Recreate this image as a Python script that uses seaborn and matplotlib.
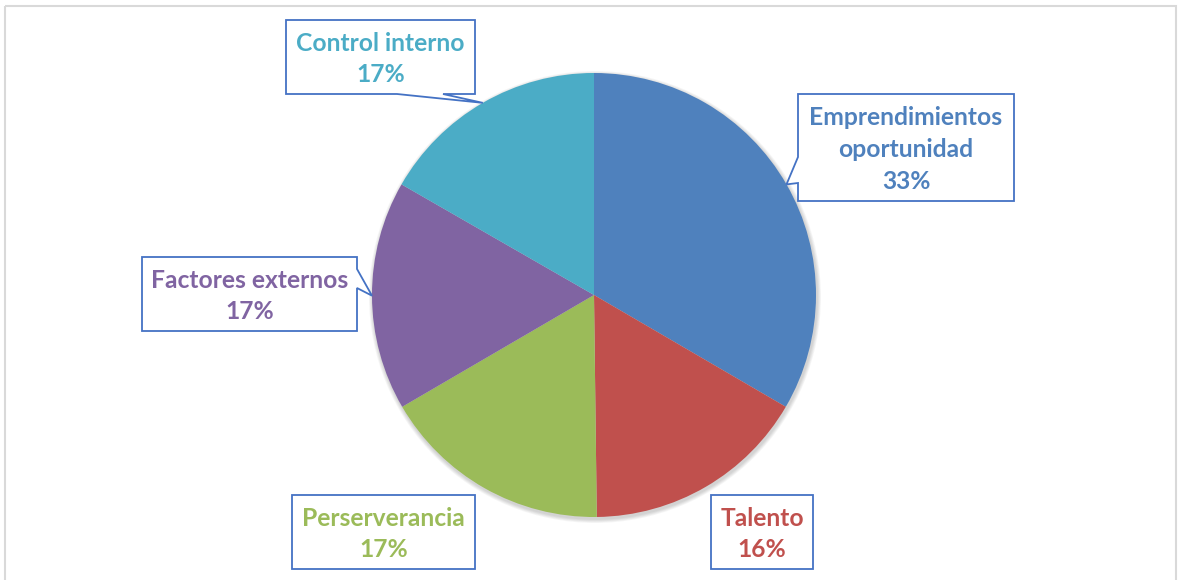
import matplotlib
matplotlib.use("Agg")
import numpy as np
import matplotlib.pyplot as plt
from matplotlib.patches import Polygon, Rectangle, Circle
import seaborn as sns

# chart data
categories = ['Emprendimientos\noportunidad', 'Talento', 'Perserverancia',
              'Factores externos', 'Control interno']
percentages = [33.4, 16.4, 16.8, 16.7, 16.7]
slice_colors = ['#4F81BD', '#C0504D', '#9BBB59', '#8064A2', '#4BACC6']

sns.set_theme(style='white')
plt.rcParams['font.family'] = ['Lato', 'DejaVu Sans']

W, H = 1178, 580
fig = plt.figure(figsize=(W / 100, H / 100), dpi=100)
ax = fig.add_axes([0, 0, 1, 1])

# pie layout in pixel coordinates (y axis inverted below)
center = (594, 295)
radius = 222

# soft shadow round the pie
for k in range(1, 6):
    ax.add_patch(Circle((center[0] + 1, center[1] + 2), radius + k * 0.8,
                        color='#000000', alpha=0.035, zorder=1, lw=0))

wedges, _ = ax.pie(percentages, colors=slice_colors, startangle=-90,
                   counterclock=True, center=center, radius=radius,
                   wedgeprops=dict(linewidth=0, zorder=2))

ax.set_xlim(0, W)
ax.set_ylim(H, 0)
ax.set_aspect('equal')
ax.axis('off')

# callout boxes: left, top, right, bottom, side with pointer, pointer base
boxes = [
    (798, 94, 1014, 201, 'left', (157, 183)),
    (711, 495, 813, 569, None, None),
    (292, 495, 475, 569, None, None),
    (142, 257, 357, 331, 'right', (269, 288)),
    (286, 20, 475, 94, 'bottom', (397, 443)),
]


def callout_points(box, tip):
    l, t, r, b, side, base = box
    if side == 'left':
        return [(l, t), (r, t), (r, b), (l, b), (l, base[1]), tip, (l, base[0])]
    if side == 'right':
        return [(l, t), (r, t), (r, base[0]), tip, (r, base[1]), (r, b), (l, b)]
    if side == 'bottom':
        return [(l, t), (r, t), (r, b), (base[1], b), tip, (base[0], b), (l, b)]
    return [(l, t), (r, t), (r, b), (l, b)]


for w, name, pct, col, box in zip(wedges, categories, percentages, slice_colors, boxes):
    mid = np.deg2rad((w.theta1 + w.theta2) / 2)
    tip = (center[0] + radius * np.cos(mid), center[1] + radius * np.sin(mid))
    ax.add_patch(Polygon(callout_points(box, tip), closed=True, facecolor='white',
                         edgecolor='#4472C4', lw=1.3, zorder=4, joinstyle='miter'))
    cx = (box[0] + box[2]) / 2
    cy = (box[1] + box[3]) / 2
    ax.text(cx, cy + 2, f'{name}\n{round(pct)}%', ha='center', va='center',
            color=col, fontsize=17.7, fontweight='bold', linespacing=1.47, zorder=5)

# outer chart frame
ax.add_patch(Rectangle((5, 6), 1171, 600, fill=False, edgecolor='#D9D9D9', lw=1.5, zorder=0))

fig.savefig('out.png', dpi=100, facecolor='white')
